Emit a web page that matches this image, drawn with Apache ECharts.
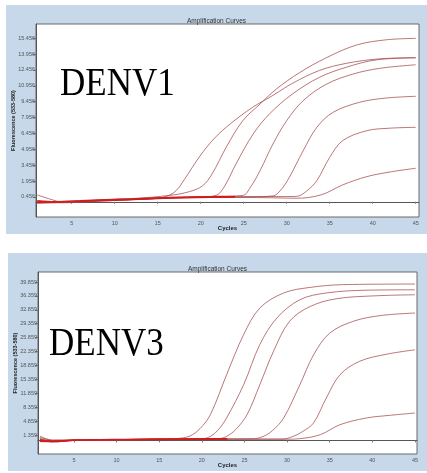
<!DOCTYPE html>
<html>
<head>
<meta charset="utf-8">
<script src="https://cdn.jsdelivr.net/npm/echarts@6/dist/echarts.min.js"></script>
<style>
html,body{margin:0;padding:0;background:#fff;width:427px;height:473px;overflow:hidden;}
.panel{position:absolute;background:#c6d8ea;}
#c1{left:6px;top:5px;width:421px;height:229px;}
#c2{left:8px;top:253px;width:419px;height:218px;}
</style>
</head>
<body>
<div id="c1" class="panel"></div>
<div id="c2" class="panel"></div>
<script>
// ---------- data ----------
const chartTitle = 'Amplification Curves';
const xName = 'Cycles';
const yName = 'Fluorescence (533-580)';
const cycleTicks = [5, 10, 15, 20, 25, 30, 35, 40, 45];
const denv1Ticks = [0.456, 1.956, 3.456, 4.956, 6.456, 7.956, 9.456, 10.956, 12.456, 13.956, 15.456];
const denv3Ticks = [1.359, 4.859, 8.359, 11.859, 15.359, 18.859, 22.359, 25.859, 29.359, 32.859, 36.359, 39.859];

// DENV1 curves [cycle, fluorescence]
const denv1_c1 = [[1,-0.1],[4,-0.05],[8,0.1],[12,0.22],[15,0.35],[16.3,0.6],[17.2,1.1],[18.1,2.1],[19.9,4.3],[21.6,6.0],[23.5,7.4],[26.0,8.9],[28.5,10.1],[30.7,11.2],[33.8,12.4],[36.9,13.07],[40.8,13.5],[45,13.6]];
const denv1_c2 = [[1,0.0],[4,0.0],[8,0.15],[12,0.3],[16.4,0.6],[18.7,0.96],[20.2,1.5],[21.3,2.6],[23.0,5.2],[24.9,7.66],[26.9,9.23],[28.8,10.65],[31.5,12.2],[34.6,13.6],[38.1,14.8],[41.6,15.3],[45,15.43]];
const denv1_c3 = [[1,-0.15],[4,-0.05],[8,0.1],[12,0.2],[16,0.35],[20,0.45],[21.8,0.6],[22.8,1.5],[24.1,3.57],[26.1,6.4],[28.0,8.3],[30.7,10.2],[33.8,11.75],[36.9,12.7],[40.4,13.4],[45,13.6]];
const denv1_c4 = [[1,0.05],[4,0.0],[8,0.12],[12,0.25],[16,0.38],[20,0.45],[24.9,0.6],[25.8,1.4],[26.9,2.94],[28.4,5.46],[30.0,7.66],[31.9,9.54],[34.6,11.1],[37.7,12.06],[40.8,12.6],[45,12.94]];
const denv1_c5 = [[1,-0.05],[4,-0.1],[8,0.05],[12,0.2],[16,0.35],[20,0.42],[25,0.45],[28.4,0.55],[29.3,1.1],[30.3,2.3],[31.9,4.8],[33.5,7.03],[35.4,8.45],[38.5,9.4],[41.6,9.8],[45,9.96]];
const denv1_c6 = [[1,-0.1],[4,0.0],[8,0.15],[12,0.28],[16,0.4],[20,0.45],[25,0.48],[31.1,0.5],[32.3,1.0],[33.5,2.0],[35.0,4.2],[36.5,5.77],[39.3,6.71],[42,6.95],[45,7.03]];
const denv1_c7 = [[1,0.64],[2.5,0.25],[4,-0.05],[8,0.1],[12,0.2],[16,0.35],[20,0.42],[25,0.4],[28,0.38],[31.1,0.33],[34.0,0.65],[36.5,1.59],[39.3,2.37],[42.2,2.84],[45,3.16]];
const denv1_base1 = [[1,-0.05],[3,0.0],[6,0.05],[9,0.12],[12,0.2],[15,0.3],[18,0.38],[21,0.42],[24,0.45]];
const denv1_base2 = [[1,0.1],[3,0.0],[6,0.1],[9,0.2],[12,0.26],[15,0.36],[18,0.44],[21,0.48],[24,0.5]];

// DENV3 curves [cycle, fluorescence]
const denv3_c1 = [[1,0.8],[2.5,0.1],[5,0.1],[10,0.2],[15,0.3],[17,0.45],[18.6,1.1],[19.8,3.0],[21.0,6.47],[22.9,16.5],[24.9,26.6],[26.8,33.3],[29.6,37.1],[32.7,38.5],[36.6,39.2],[45,39.35]];
const denv3_c2 = [[1,-0.3],[2.5,-0.4],[5,0.0],[10,0.15],[15,0.25],[20,0.4],[21.0,1.0],[21.9,2.6],[22.9,5.64],[24.9,14.0],[26.8,24.1],[28.8,30.8],[31.5,35.4],[34.6,37.1],[39.3,37.8],[45,37.9]];
const denv3_c3 = [[1,0.3],[2.5,-0.2],[5,0.05],[10,0.2],[15,0.3],[20,0.35],[22,0.45],[22.9,1.0],[24.0,2.8],[25.3,6.47],[26.8,14.0],[28.4,22.4],[30.3,30.0],[32.7,33.7],[35.8,35.66],[40.5,36.4],[45,36.65]];
const denv3_c4 = [[1,1.1],[2.5,0.0],[5,0.1],[10,0.2],[15,0.3],[20,0.35],[26,0.4],[27.2,1.0],[28.3,2.5],[29.6,5.64],[31.5,14.0],[33.1,21.5],[35.0,27.0],[37.8,30.0],[40.9,31.4],[45,32.06]];
const denv3_c5 = [[1,0.0],[2.5,-0.3],[5,0.0],[10,0.15],[15,0.25],[20,0.3],[25,0.32],[29.5,0.35],[30.7,1.0],[31.8,2.2],[33.1,4.38],[34.6,10.67],[36.2,16.5],[38.5,19.9],[41.7,21.7],[45,22.8]];
const denv3_c6 = [[1,0.5],[2.5,-0.1],[5,0.05],[10,0.15],[15,0.25],[20,0.3],[25,0.3],[30,0.3],[31.5,0.43],[33.9,1.44],[36.2,3.95],[39.3,5.64],[42,6.3],[45,6.89]];
const denv3_base1 = [[1,0.2],[2.5,-0.3],[5,0.0],[8,0.1],[11,0.15],[14,0.2],[17,0.25],[20,0.3],[23,0.32]];
const denv3_base2 = [[1,-0.2],[2.5,-0.2],[5,0.1],[8,0.2],[11,0.25],[14,0.35],[17,0.38],[20,0.4],[23,0.45]];

// ---------- chart builder ----------
function build(el, cfg) {
  const chart = echarts.init(el, null, {renderer: 'canvas'});
  const curveColor = '#a4484b';
  const series = cfg.curves.map(d => ({
    type: 'line', data: d, smooth: 0.35, showSymbol: false, silent: true,
    lineStyle: {color: curveColor, width: 0.75}
  })).concat(cfg.base.map(d => ({
    type: 'line', data: d, smooth: 0.35, showSymbol: false, silent: true,
    lineStyle: {color: '#d01c1c', width: 1.4}
  })));
  chart.setOption({
    animation: false,
    title: {text: chartTitle, left: 'center', top: 8,
      textStyle: {fontSize: 6.5, fontWeight: 'normal', color: '#333', fontFamily: 'Liberation Sans'}},
    grid: {left: 30, top: 19, width: cfg.gw, height: cfg.gh, show: true,
      containLabel: false, outerBoundsMode: 'none',
      backgroundColor: '#ffffff', borderColor: '#6a6a6a', borderWidth: 1},
    xAxis: {type: 'value', min: cfg.xmin, max: cfg.xmax,
      name: xName, nameLocation: 'middle', nameGap: 8, nameMoveOverlap: false,
      nameTextStyle: {fontSize: 6, fontWeight: 'bold', color: '#222', fontFamily: 'Liberation Sans'},
      axisLine: {show: true, lineStyle: {color: '#555'}},
      axisTick: {show: true, length: 2, customValues: cycleTicks, lineStyle: {color: '#777'}},
      axisLabel: {customValues: cycleTicks, fontSize: 5.5, color: '#555', margin: 3, fontFamily: 'Liberation Sans'},
      splitLine: {show: false}},
    yAxis: {type: 'value', min: cfg.ymin, max: cfg.ymax,
      name: yName, nameLocation: 'middle', nameGap: 20, nameMoveOverlap: false,
      nameTextStyle: {fontSize: 5.5, fontWeight: 'bold', color: '#222', fontFamily: 'Liberation Sans'},
      axisLine: {show: true, lineStyle: {color: '#555'}},
      axisTick: {show: true, length: 3, customValues: cfg.yticks, lineStyle: {color: '#777'}},
      axisLabel: {customValues: cfg.yticks, fontSize: 5.5, color: '#555', margin: 1,
        formatter: v => v.toFixed(3), fontFamily: 'Liberation Sans'},
      splitLine: {show: false}},
    graphic: [{type: 'text', x: cfg.labelX, y: cfg.labelY, scaleY: 1.17, silent: true, z: 100,
      style: {text: cfg.label, fontSize: 35, fontFamily: 'Liberation Serif', fill: '#000',
        verticalAlign: 'middle', align: 'left'}}],
    series: series
  });
}

build(document.getElementById('c1'), {
  curves: [denv1_c1, denv1_c2, denv1_c3, denv1_c4, denv1_c5, denv1_c6, denv1_c7],
  base: [denv1_base1, denv1_base2],
  yticks: denv1Ticks, ymin: -1.44, ymax: 16.79, xmin: 0.85, xmax: 45.38,
  gw: 383, gh: 193, label: 'DENV1', labelX: 54, labelY: 79
});
build(document.getElementById('c2'), {
  curves: [denv3_c1, denv3_c2, denv3_c3, denv3_c4, denv3_c5, denv3_c6],
  base: [denv3_base1, denv3_base2],
  yticks: denv3Ticks, ymin: -3.42, ymax: 42.38, xmin: 0.78, xmax: 45.24,
  gw: 379, gh: 182, label: 'DENV3', labelX: 41, labelY: 91
});
</script>
</body>
</html>
